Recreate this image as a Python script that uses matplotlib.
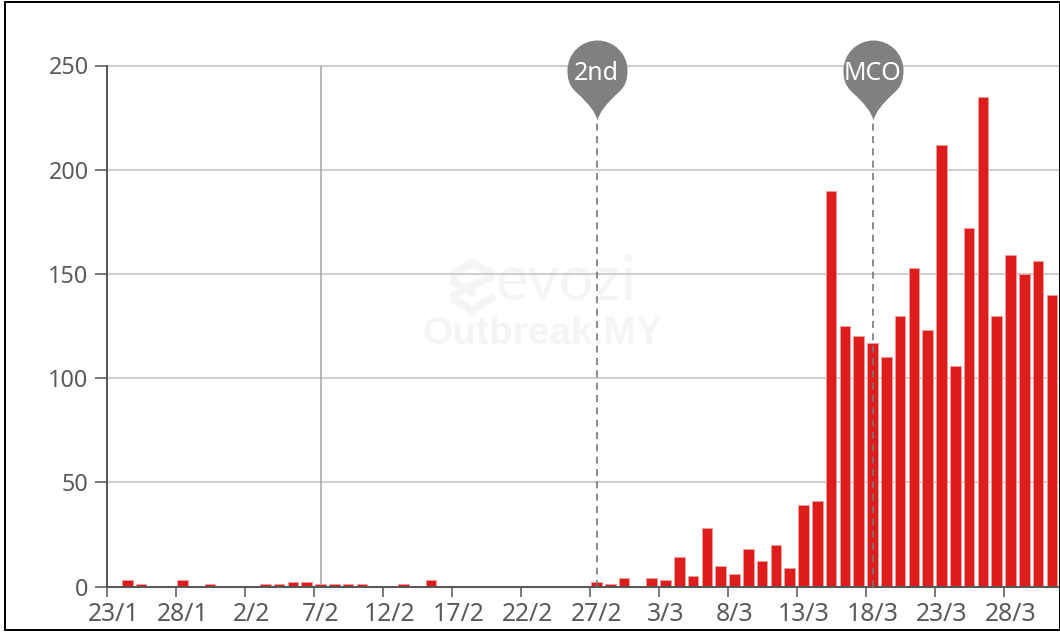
import matplotlib
matplotlib.use("Agg")
import matplotlib.pyplot as plt
import numpy as np
from matplotlib.path import Path
from matplotlib.patches import Rectangle

plt.rcParams["font.family"] = ["Noto Sans", "DejaVu Sans"]

W, H = 1060, 632

# daily new cases, one per day from 23/1
values = [0, 3, 1, 0, 0, 3, 0, 1, 0, 0,
          0, 1, 1, 2, 2, 1, 1, 1, 1, 0,
          0, 1, 0, 3, 0, 0, 0, 0, 0, 0,
          0, 0, 0, 0, 0, 2, 1, 4, 0, 4,
          3, 14, 5, 28, 10, 6, 18, 12, 20, 9,
          39, 41, 190, 125, 120, 117, 110, 130, 153, 123,
          212, 106, 172, 235, 130, 159, 150, 156, 140]
tick_idx = [0, 5, 10, 15, 20, 25, 30, 35, 40, 45, 50, 55, 60, 65]
tick_labels = ["23/1", "28/1", "2/2", "7/2", "12/2", "17/2", "22/2", "27/2",
               "3/3", "8/3", "13/3", "18/3", "23/3", "28/3"]
y_ticks = [0, 50, 100, 150, 200, 250]
hover_idx = 15
mark_idx = [35, 55]
mark_labels = ["2nd", "MCO"]

TEXT = "#5a5a5a"
AXIS = "#555555"
GRID = "#cfcfcf"
RED = "#dc1d1b"
PIN = "#808080"
WM = "#f5f5f5"

# axes placed on the pixel layout of the picture
left, right, top, bottom = 106.6, 1060, 65.5, 586.5
band = 13.8
px_per_unit = (bottom - top) / 250

def px(xp, yp):
    # picture pixels to data units
    return (xp - left) / band, (bottom - yp) / px_per_unit

fig = plt.figure(figsize=(W / 100, H / 100), dpi=100)
ax = fig.add_axes([left / W, 1 - bottom / H, (right - left) / W, (bottom - top) / H])
ax.set_xlim(0, (right - left) / band)
ax.set_ylim(0, 250)

x = np.arange(len(values)) + 0.5
ax.bar(x, values, width=0.77, color=RED, edgecolor="#ee9c9b", linewidth=0.7, zorder=3)

ax.set_yticks(y_ticks)
ax.set_xticks(tick_idx)
ax.set_xticklabels([])
ax.grid(True, axis="y", color=GRID, linewidth=1.5, zorder=1)
for line in ax.get_ygridlines():
    line.set_clip_on(False)
ax.set_axisbelow(True)
for s in ["top", "right"]:
    ax.spines[s].set_visible(False)
for s in ["left", "bottom"]:
    ax.spines[s].set_color(AXIS)
    ax.spines[s].set_linewidth(1.4)
    ax.spines[s].set_zorder(4)
ax.tick_params(axis="y", length=8.5, width=1.1, color=AXIS, labelcolor=TEXT,
               labelsize=16.8, pad=4.5)
ax.tick_params(axis="x", length=7.5, width=1.1, color=AXIS)
# labels sit in the middle of their day band, ticks on the band edge
for i, lab in zip(tick_idx, tick_labels):
    ax.annotate(lab, (i + 0.5, 0), xytext=(0, -11.5), textcoords="offset points",
                ha="center", va="top", color=TEXT, fontsize=17.8, annotation_clip=False)

# hover line
ax.plot([hover_idx + 0.5] * 2, [0, 250], color="#aaaaaa", linewidth=1.2, zorder=2)

# evozi watermark
ax.text(*px(566, 283), "evozi", color=WM, fontsize=44, ha="center", va="center",
        zorder=0.5, family="Lato")
ax.text(*px(542, 334), "Outbreak.MY", color=WM, fontsize=28, weight="bold", ha="center",
        va="center", zorder=0.5, family="Liberation Sans")
logo_a = [(490, 272), (472, 263), (454, 273), (454, 282), (472, 292)]
logo_b = [(491, 277), (463, 290), (454, 295), (454, 300), (472, 310), (491, 298)]
for part in [logo_a, logo_b]:
    xs, ys = zip(*[px(a, b) for a, b in part])
    ax.plot(xs, ys, color=WM, linewidth=5.5, zorder=0.5, solid_joinstyle="miter")

# pin shape with its tip at the origin, units are pixels
verts = [(0, 0), (-2, 8), (-8, 16), (-21, 28),
         (-29, 35), (-30, 43), (-30, 50),
         (-30, 66.6), (-16.6, 80), (0, 80),
         (16.6, 80), (30, 66.6), (30, 50),
         (30, 43), (29, 35), (21, 28),
         (8, 16), (2, 8), (0, 0)]
codes = [Path.MOVETO] + [Path.CURVE4] * 18
pin = Path(verts, codes)
tip_y = px(0, 120)[1]
text_y = px(0, 73)[1]
for i, lab in zip(mark_idx, mark_labels):
    ax.plot([i + 0.5] * 2, [0, tip_y], color="#777777", linewidth=1.2,
            linestyle=(0, (4.2, 3.2)), zorder=5)
    ax.plot([i + 0.5], [tip_y], marker=pin, markersize=2 * 80 * 0.72, color=PIN,
            markeredgewidth=0, linestyle="none", zorder=6, clip_on=False)
    ax.text(i + 0.5, text_y, lab, color="white", fontsize=18, ha="center", va="center",
            zorder=7, clip_on=False)

# screenshot border, in pixels
border = [(3.5, 1, 1056, 2), (3.5, 1, 2, 630), (3.5, 629, 1056, 2), (1058.5, 1, 1.2, 630)]
for bx, by, bw, bh in border:
    fig.add_artist(Rectangle((bx / W, 1 - (by + bh) / H), bw / W, bh / H,
                             transform=fig.transFigure, color="black", linewidth=0))

fig.savefig("out.png", dpi=100)
plt.close(fig)
